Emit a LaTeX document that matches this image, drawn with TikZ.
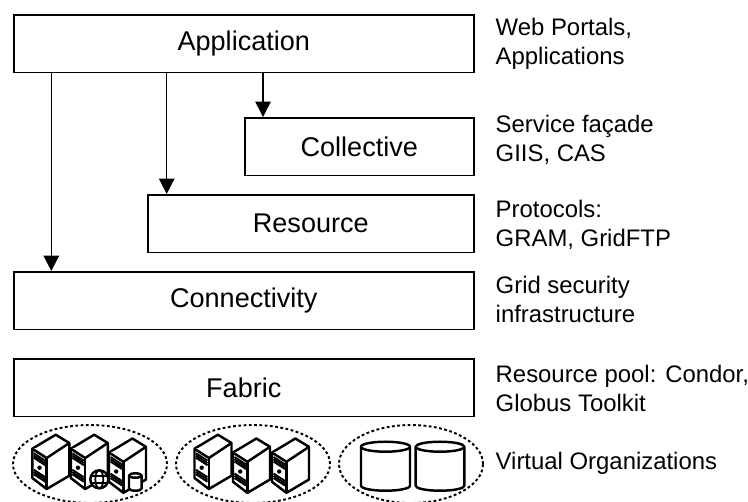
\documentclass[tikz,border=0pt]{standalone}
\usepackage{fontspec}
\setmainfont{Liberation Sans}
\usepackage{tikz}
\usetikzlibrary{positioning, arrows.meta, shapes.geometric}

\tikzset{
  layer/.style={draw, fill=white, line width=0.45pt, anchor=north west, inner sep=0pt, minimum height=0.578cm, font=\fontsize{7.7}{9}\selectfont},
  note/.style={anchor=west, align=left, inner sep=0pt, font=\fontsize{6.8}{8.25}\selectfont},
  call/.style={line width=0.45pt, -{Triangle[length=1.55mm,width=1.55mm]}},
  vorg/.style={draw, ellipse, line width=0.55pt, dash pattern=on 0.8pt off 0.7pt, inner sep=0pt, minimum height=0.78cm},
  icon/.style={line width=0.7pt, line join=round, fill=white}
}

% one server tower, the point given is its upper left corner
\newcommand{\towerbox}[2]{
\begin{scope}[shift={(#1,#2)}]
\filldraw[icon] (0,0)--(0.234,0.14)--(0.37,0.057)--(0.37,-0.27)--(0.144,-0.403)--(0,-0.293)--cycle;
\draw[icon] (0,0)--(0.144,-0.093)--(0.37,0.057);
\draw[icon] (0.144,-0.093)--(0.144,-0.403);
% front panel
\foreach \s in {-0.045,-0.068,-0.09,-0.21,-0.233,-0.255}
  \draw[line width=0.55pt] (0.015,\s)--(0.13,\s-0.075);
\fill (0.072,-0.19) circle (0.022);
\end{scope}
}

% one storage drum
\newcommand{\drumbox}[5]{
\filldraw[icon] (#1-#3,#2)--(#1-#3,#2-#4) arc (180:360:#3 and #5)--(#1+#3,#2) arc (0:180:#3 and #5)--cycle;
\draw[icon] (#1-#3,#2) arc (180:360:#3 and #5);
}

\begin{document}
\begin{tikzpicture}
\useasboundingbox (0,0) rectangle (7.48,-5.01);

% --- Layers ---
\node[layer, minimum width=4.60cm] (application) at (0.13,-0.14) {Application};
\node[layer, minimum width=2.29cm] (collective) at (2.44,-1.17) {Collective};
\node[layer, minimum width=3.26cm] (resource) at (1.47,-1.94) {Resource};
\node[layer, minimum width=4.60cm] (connectivity) at (0.13,-2.71) {Connectivity};
\node[layer, minimum width=4.60cm] (fabric) at (0.13,-3.58) {Fabric};

% --- Calls out of the application layer ---
\coordinate (tocollective) at (2.63,-1.17);
\coordinate (toresource) at (1.667,-1.94);
\coordinate (toconnectivity) at (0.513,-2.71);
\draw[call] (application.south -| tocollective) -- (tocollective);
\draw[call] (application.south -| toresource) -- (toresource);
\draw[call] (application.south -| toconnectivity) -- (toconnectivity);

% --- Notes on the right ---
\node[note] (portals) at (4.95,-0.44) {Web Portals,\\Applications};
\node[note] (facade) at (4.95,-1.40) {Service façade\\GIIS, CAS};
\node[note] (protocols) at (4.95,-2.25) {Protocols:\\GRAM, GridFTP};
\node[note] (security) at (4.95,-2.99) {Grid security\\infrastructure};
\node[note] (pool) at (4.95,-3.88) {Resource pool: Condor,\\Globus Toolkit};
\node[note] (organizations) at (4.95,-4.63) {Virtual Organizations};

% --- Virtual organizations ---
\node[vorg, minimum width=1.54cm] (voa) at (0.90,-4.64) {};
\node[vorg, minimum width=1.54cm] (vob) at (2.53,-4.64) {};
\node[vorg, minimum width=1.44cm] (voc) at (4.11,-4.64) {};

% first group
\towerbox{0.323}{-4.487}
\towerbox{0.708}{-4.487}
\towerbox{1.09}{-4.525}
\filldraw[icon] (0.993,-4.793) circle (0.09);
\draw[line width=0.5pt] (0.993,-4.703) arc (90:270:0.04 and 0.09) (0.993,-4.703) arc (90:-90:0.04 and 0.09) (0.91,-4.76)--(1.08,-4.76) (0.91,-4.83)--(1.08,-4.83);
\drumbox{1.353}{-4.755}{0.063}{0.13}{0.022}

% second group
\towerbox{1.945}{-4.487}
\towerbox{2.33}{-4.525}
\towerbox{2.72}{-4.525}

% third group
\drumbox{3.855}{-4.467}{0.245}{0.39}{0.05}
\drumbox{4.40}{-4.467}{0.243}{0.39}{0.05}
\end{tikzpicture}
\end{document}
